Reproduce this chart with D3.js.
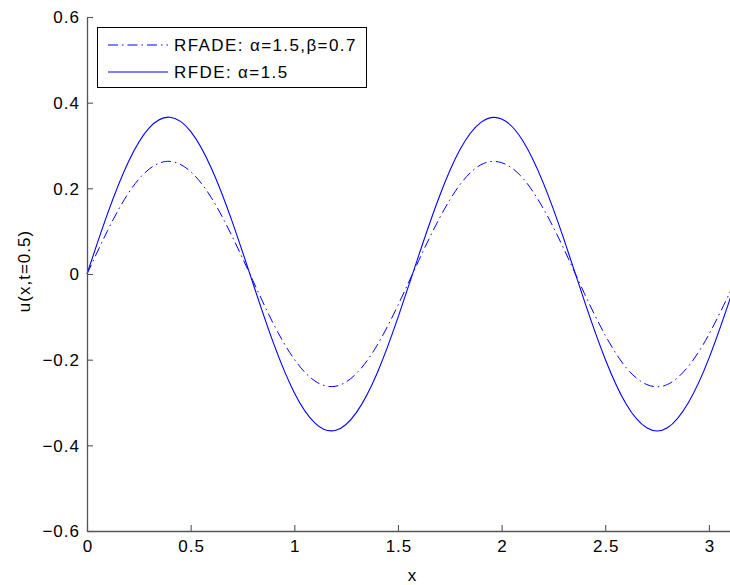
<!DOCTYPE html>
<html><head><meta charset="utf-8">
<script src="https://cdn.jsdelivr.net/npm/d3@7"></script>
<style>body{margin:0;background:#fff}svg{display:block}text{font-family:"Liberation Sans",Arial,Helvetica,sans-serif}</style>
</head><body>
<svg id="c" width="730" height="585"></svg>
<script>
const xValues = [0,0.1,0.2,0.3,0.4,0.5,0.6,0.7,0.8,0.9,1.0,1.1,1.2,1.3,1.4,1.5,1.6,1.7,1.8,1.9,2.0,2.1,2.2,2.3,2.4,2.5,2.6,2.7,2.8,2.9,3.0,3.1,3.1416];
const rfde = [0,0.142,0.262,0.341,0.366,0.333,0.247,0.123,-0.021,-0.162,-0.277,-0.348,-0.365,-0.323,-0.231,-0.102,0.043,0.181,0.291,0.354,0.362,0.313,0.214,0.082,-0.064,-0.199,-0.303,-0.359,-0.359,-0.301,-0.197,-0.061,0];
const rfade = [0,0.102,0.189,0.245,0.263,0.239,0.178,0.088,-0.015,-0.117,-0.199,-0.250,-0.262,-0.232,-0.166,-0.073,0.031,0.130,0.209,0.255,0.260,0.225,0.154,0.059,-0.046,-0.143,-0.218,-0.258,-0.258,-0.216,-0.141,-0.044,0];
const xTicks = [0,0.5,1,1.5,2,2.5,3];
const yTicks = [-0.6,-0.4,-0.2,0,0.2,0.4,0.6];
const legendLabels = ["RFADE: \u03b1=1.5,\u03b2=0.7","RFDE: \u03b1=1.5"];

const svg = d3.select("#c");
const x = d3.scaleLinear().domain([0, Math.PI]).range([87, 87 + Math.PI*207.3]);
const y = d3.scaleLinear().domain([-0.6, 0.6]).range([531, 17]);
const axisColor = "#555";

const line = d3.line().x((d,i)=>x(xValues[i])).y(d=>y(d)).curve(d3.curveNatural);
svg.append("path").datum(rfade).attr("d", line).attr("fill","none")
  .attr("stroke","#0000ff").attr("stroke-width",1).attr("stroke-dasharray","10,4,1.5,4");
svg.append("path").datum(rfde).attr("d", line).attr("fill","none")
  .attr("stroke","#0000ff").attr("stroke-width",1.1);

const gx = svg.append("g").attr("transform","translate(0,531)")
  .call(d3.axisBottom(x).tickValues(xTicks).tickFormat(d3.format("")).tickSizeInner(-6).tickSizeOuter(0).tickPadding(9));
const gy = svg.append("g").attr("transform","translate(87,0)")
  .call(d3.axisLeft(y).tickValues(yTicks).tickFormat(d=> d<0 ? "\u2212"+d3.format("")(-d) : d3.format("")(d)).tickSizeInner(-6).tickSizeOuter(0).tickPadding(7));
[gx,gy].forEach(g=>{
  g.select(".domain").attr("stroke",axisColor).attr("stroke-width",1.3);
  g.selectAll(".tick line").attr("stroke",axisColor).attr("stroke-width",1.1);
  g.selectAll(".tick text").attr("fill","#000").style("font-size","17px").style("letter-spacing","1px")
    .style("font-family","'Liberation Sans',Arial,sans-serif");
});
gy.selectAll(".tick text").attr("dy","0.35em");
gx.selectAll(".tick text").attr("dx","0.5px");

svg.append("text").attr("x",412).attr("y",581).attr("text-anchor","middle").style("font-size","17px").text("x");
svg.append("text").attr("transform","translate(30,271) rotate(-90)").attr("text-anchor","middle")
  .style("font-size","17px").style("letter-spacing","1px").text("u(x,t=0.5)");

// legend
const lg = svg.append("g");
lg.append("rect").attr("x",97.5).attr("y",27.5).attr("width",269).attr("height",60).attr("fill","#fff").attr("stroke","#000").attr("stroke-width",1);
const dashes = ["10,4,1.5,4", null];
legendLabels.forEach((t,i)=>{
  const yy = 45 + i*27;
  const l = lg.append("line").attr("x1",108).attr("x2",168).attr("y1",yy).attr("y2",yy).attr("stroke","#0000ff").attr("stroke-width",1);
  if (dashes[i]) l.attr("stroke-dasharray", dashes[i]);
  lg.append("text").attr("x",174).attr("y",yy).attr("dy","0.35em").style("font-size","17px").style("letter-spacing","1.4px").text(t);
});
</script>
</body></html>
